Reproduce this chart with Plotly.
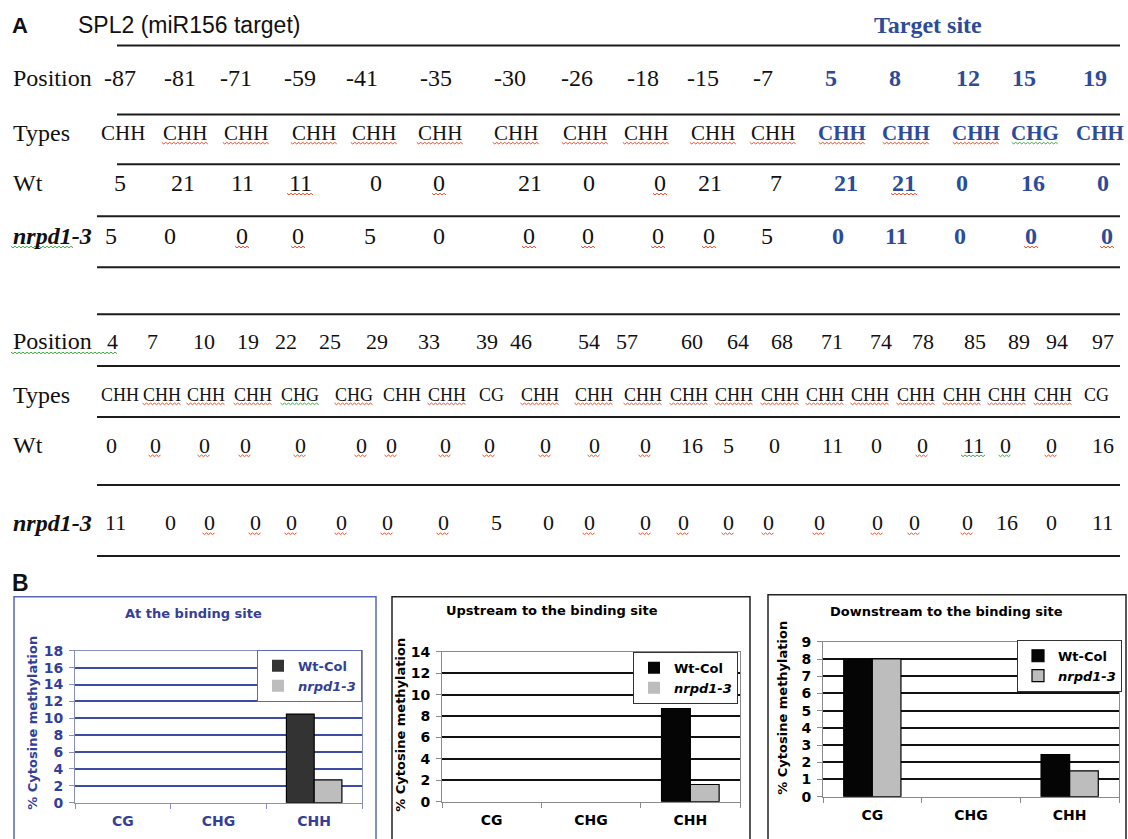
import plotly.graph_objects as go

W, H = 1128, 839

# ---------------- data: panel A tables ----------------
T1_POSITIONS = [-87, -81, -71, -59, -41, -35, -30, -26, -18, -15, -7, 5, 8, 12, 15, 19]
T1_TYPES = ["CHH"] * 14 + ["CHG", "CHH"]
T1_WT = [5, 21, 11, 11, 0, 0, 21, 0, 0, 21, 7, 21, 21, 0, 16, 0]
T1_NRPD = [5, 0, 0, 0, 5, 0, 0, 0, 0, 0, 5, 0, 11, 0, 0, 0]

T2_POSITIONS = [4, 7, 10, 19, 22, 25, 29, 33, 39, 46, 54, 57, 60, 64, 68, 71, 74, 78, 85, 89, 94, 97]
T2_TYPES = ["CHH", "CHH", "CHH", "CHH", "CHG", "CHG", "CHH", "CHH", "CG"] + ["CHH"] * 12 + ["CG"]
T2_WT = [0, 0, 0, 0, 0, 0, 0, 0, 0, 0, 0, 0, 16, 5, 0, 11, 0, 0, 11, 0, 0, 16]
T2_NRPD = [11, 0, 0, 0, 0, 0, 0, 0, 5, 0, 0, 0, 0, 0, 0, 0, 0, 0, 0, 16, 0, 11]

# ---------------- data: panel B bar charts ----------------
CATEGORIES = ["CG", "CHG", "CHH"]
SERIES_NAMES = ["Wt-Col", "nrpd1-3"]
AT_SITE_WT = [0, 0, 10.5]
AT_SITE_NRPD = [0, 0, 2.7]
UPSTREAM_WT = [0, 0, 8.7]
UPSTREAM_NRPD = [0, 0, 1.6]
DOWNSTREAM_WT = [8.0, 0, 2.45]
DOWNSTREAM_NRPD = [8.0, 0, 1.5]
CHART_TITLES = ["At the binding site", "Upstream to the binding site", "Downstream to the binding site"]
Y_TITLE = "% Cytosine methylation"

# ---------------- layout / style constants (pixels) ----------------
SERIF = "Liberation Serif, Times New Roman, serif"
SANS = "Liberation Sans, Arial, sans-serif"
VSANS = "DejaVu Sans, Verdana, sans-serif"
INK = "#111111"
BLUE_T = "#2D4B9B"
BLUE_B = "#343F98"
SQ_COLORS = {"r": "#E4502C", "g": "#48A448"}

T1_ROWS_Y = {"pos": 78, "types": 133, "wt": 183, "nr": 236}
T1_LINES = [(117, 45), (117, 114), (117, 164), (97, 216), (97, 267)]
T1_X = {
    "pos": [120, 180, 236, 300, 362, 436, 510, 577, 643, 703, 763, 831, 895, 968, 1024, 1095],
    "types": [123, 185, 246, 314, 374, 440, 516, 585, 646, 713, 773, 842, 906, 976, 1035, 1100],
    "wt": [120, 183, 242, 300, 376, 439, 530, 589, 660, 710, 776, 846, 904, 962, 1033, 1103],
    "nr": [111, 170, 242, 298, 370, 439, 529, 588, 658, 709, 767, 838, 896, 960, 1031, 1107],
}
# spell-check style wavy underlines (r = red, g = green, - = none)
T1_SQ = {"types": "-rrrrrrrrrrrrrg-", "wt": "---r-r--r---r---", "nr": "--rr--rrrr----rr"}

T2_ROWS_Y = {"pos": 341, "types": 395, "wt": 445, "nr": 523}
T2_LINES = [(97, 314), (97, 366), (97, 417), (97, 485), (97, 556)]
T2_X = {
    "pos": [112, 152, 204, 248, 286, 330, 377, 429, 487, 521, 589, 627, 692, 738, 782, 832, 881, 923, 975, 1019, 1057, 1103],
    "types": [120, 162, 206, 253, 300, 354, 402, 447, 491, 540, 594, 643, 689, 734, 780, 825, 870, 916, 962, 1007, 1053, 1096],
    "wt": [111, 155, 204, 245, 300, 361, 391, 445, 489, 545, 594, 645, 692, 728, 774, 832, 876, 922, 973, 1005, 1051, 1103],
    "nr": [115, 170, 209, 255, 291, 341, 387, 443, 496, 548, 589, 645, 683, 728, 768, 819, 877, 914, 967, 1007, 1051, 1102],
}
T2_SQ = {"types": "-rrrgr-r-r" + "r" * 11 + "-",
         "wt": "-" + "r" * 11 + "-----" + "rggr-",
         "nr": "--rrrrrr--" + "r" * 9 + "---"}
LINE_END = 1120

CHART_BOX = [(14, 597, 376), (392, 597, 750), (768, 595, 1126)]
PLOT_AREA = [(75, 362, 651, 803), (442, 740, 652, 802), (823, 1119, 642, 797)]
TITLE_POS = [(193, 614), (552, 611), (946, 612)]
YTITLE_POS = [(33, 723), (401, 725), (783, 708)]
LEGEND_POS = [(362, 650), (738, 652), (1122, 640)]

# the photographed page is slightly squeezed vertically; pre-compensate
V_OFF, V_SCALE = 7.5, 0.982


def X(p):
    return p / W


def Y(p):
    return 1 - ((p - V_OFF) / V_SCALE) / H


annotations = []
shapes = []
sq = {"r": ([], []), "g": ([], [])}


def text(x, y, s, size, color=INK, family=SERIF, weight="normal", xanchor="center", angle=0):
    annotations.append(dict(
        x=X(x), y=Y(y), xref="paper", yref="paper", text=s, showarrow=False,
        xanchor=xanchor, yanchor="middle", textangle=angle,
        font=dict(family=family, size=size, color=color, weight=weight)))


def squiggle(x0, x1, y, key):
    xs, ys = sq[key]
    k = 0
    x = x0
    while x <= x1:
        xs.append(x)
        ys.append(y + (1.6 if k % 2 else 0))
        x += 2
        k += 1
    xs.append(None)
    ys.append(None)


def cell_squiggles(xlist, codes, y, widths):
    for i, code in enumerate(codes):
        if code in sq:
            half = widths[i] / 2
            squiggle(xlist[i] - half, xlist[i] + half, y, code)


# ---------------- Panel A ----------------
text(10, 25, "A", 22, family=SANS, weight="bold", xanchor="left")
text(76, 25, "SPL2 (miR156 target)", 23, family=SANS, xanchor="left")
text(928, 25, "Target site", 24, color=BLUE_T, weight="bold")


def row_labels(rows_y):
    text(11, rows_y["pos"], "Position", 24, xanchor="left")
    text(11, rows_y["types"], "Types", 24, xanchor="left")
    text(11, rows_y["wt"], "Wt", 24, xanchor="left")
    text(11, rows_y["nr"], "<i>nrpd1-3</i>", 24, weight="bold", xanchor="left")


row_labels(T1_ROWS_Y)
for i, pos in enumerate(T1_POSITIONS):
    target = pos > 0
    col = BLUE_T if target else INK
    wgt = "bold" if target else "normal"
    text(T1_X["pos"][i], T1_ROWS_Y["pos"], str(pos), 24, color=col, weight=wgt)
    text(T1_X["types"][i], T1_ROWS_Y["types"], T1_TYPES[i], 21, color=col, weight=wgt)
    text(T1_X["wt"][i], T1_ROWS_Y["wt"], str(T1_WT[i]), 24, color=col, weight=wgt)
    text(T1_X["nr"][i], T1_ROWS_Y["nr"], str(T1_NRPD[i]), 24, color=col, weight=wgt)
cell_squiggles(T1_X["types"], T1_SQ["types"], T1_ROWS_Y["types"] + 9, [15.5 * len(t) for t in T1_TYPES])
cell_squiggles(T1_X["wt"], T1_SQ["wt"], T1_ROWS_Y["wt"] + 10, [12 * len(str(v)) + 2 for v in T1_WT])
cell_squiggles(T1_X["nr"], T1_SQ["nr"], T1_ROWS_Y["nr"] + 10, [12 * len(str(v)) + 2 for v in T1_NRPD])
squiggle(11, 73, T1_ROWS_Y["nr"] + 10, "g")

row_labels(T2_ROWS_Y)
for i, pos in enumerate(T2_POSITIONS):
    text(T2_X["pos"][i], T2_ROWS_Y["pos"], str(pos), 22)
    text(T2_X["types"][i], T2_ROWS_Y["types"], T2_TYPES[i], 18)
    text(T2_X["wt"][i], T2_ROWS_Y["wt"], str(T2_WT[i]), 22)
    text(T2_X["nr"][i], T2_ROWS_Y["nr"], str(T2_NRPD[i]), 22)
cell_squiggles(T2_X["types"], T2_SQ["types"], T2_ROWS_Y["types"] + 8, [13 * len(t) for t in T2_TYPES])
cell_squiggles(T2_X["wt"], T2_SQ["wt"], T2_ROWS_Y["wt"] + 10, [11 * len(str(v)) + 2 for v in T2_WT])
cell_squiggles(T2_X["nr"], T2_SQ["nr"], T2_ROWS_Y["nr"] + 10, [11 * len(str(v)) + 2 for v in T2_NRPD])
squiggle(11, 118, T2_ROWS_Y["pos"] + 11, "g")

fig = go.Figure()

# table rules drawn on a full-page pixel overlay axis
rule_x, rule_y = [], []
for x0, y in T1_LINES + T2_LINES:
    rule_x += [x0, LINE_END, None]
    rule_y += [y, y, None]
fig.add_trace(go.Scatter(x=rule_x, y=rule_y, mode="lines", xaxis="x4", yaxis="y4",
                         line=dict(color="#1c1c1c", width=2), hoverinfo="skip", showlegend=False))
for key, (xs, ys) in sq.items():
    fig.add_trace(go.Scatter(x=xs, y=ys, mode="lines", xaxis="x4", yaxis="y4",
                             line=dict(color=SQ_COLORS[key], width=1), hoverinfo="skip",
                             showlegend=False))

# ---------------- Panel B ----------------
text(10, 583, "B", 23, family=SANS, weight="bold", xanchor="left")

charts = [
    dict(wt=AT_SITE_WT, nr=AT_SITE_NRPD, ymax=18, dtick=2, txt=BLUE_B, grid="#3C4AA8",
         box="#5B68B8", wtcol="#333333", axis="#8A8FB8"),
    dict(wt=UPSTREAM_WT, nr=UPSTREAM_NRPD, ymax=14, dtick=2, txt="#000000", grid="#111111",
         box="#222222", wtcol="#050505", axis="#8a8a8a"),
    dict(wt=DOWNSTREAM_WT, nr=DOWNSTREAM_NRPD, ymax=9, dtick=1, txt="#000000", grid="#111111",
         box="#222222", wtcol="#050505", axis="#8a8a8a"),
]


def outline(values):
    return [1.2 if v > 0 else 0 for v in values]


layout_axes = {
    "xaxis4": dict(domain=[0, 1], range=[0, W], visible=False, fixedrange=True),
    "yaxis4": dict(domain=[0, 1], range=[V_OFF + V_SCALE * H, V_OFF], visible=False, fixedrange=True),
}
for i, c in enumerate(charts):
    n = i + 1
    xa = "x" if n == 1 else f"x{n}"
    ya = "y" if n == 1 else f"y{n}"
    lg = "legend" if n == 1 else f"legend{n}"
    fig.add_trace(go.Bar(
        x=CATEGORIES, y=c["wt"], name=SERIES_NAMES[0], xaxis=xa, yaxis=ya, legend=lg,
        marker=dict(color=c["wtcol"], line=dict(color="#000000", width=outline(c["wt"])))))
    fig.add_trace(go.Bar(
        x=CATEGORIES, y=c["nr"], name="<i>" + SERIES_NAMES[1] + "</i>", xaxis=xa, yaxis=ya, legend=lg,
        marker=dict(color="#BDBDBD", line=dict(color="#000000", width=outline(c["nr"])))))

    l, r, t, b = PLOT_AREA[i]
    tick_font = dict(family=VSANS, size=14, color=c["txt"], weight="bold")
    layout_axes["xaxis" if n == 1 else f"xaxis{n}"] = dict(
        domain=[X(l), X(r)], anchor=ya, type="category", range=[-0.5, 2.5],
        ticks="outside", tickson="boundaries", ticklen=5, tickcolor=c["axis"],
        showgrid=False, showline=True, linecolor=c["axis"], linewidth=1, mirror=True,
        tickfont=tick_font, ticklabelstandoff=6, fixedrange=True)
    layout_axes["yaxis" if n == 1 else f"yaxis{n}"] = dict(
        domain=[Y(b), Y(t)], anchor=xa, range=[0, c["ymax"]], dtick=c["dtick"],
        ticks="outside", ticklen=5, tickcolor=c["axis"],
        showgrid=True, gridcolor=c["grid"], gridwidth=2, zeroline=False,
        showline=True, linecolor=c["axis"], linewidth=1, mirror=True,
        tickfont=tick_font, ticklabelstandoff=3, fixedrange=True)

    lx, ly = LEGEND_POS[i]
    layout_axes[lg] = dict(
        x=X(lx), y=Y(ly), xanchor="right", yanchor="top", bgcolor="#FFFFFF",
        bordercolor=c["box"] if n == 1 else "#333333", borderwidth=1,
        font=dict(family=VSANS, size=13, color=c["txt"], weight="bold"),
        itemwidth=30, tracegroupgap=0, traceorder="normal")

    bx0, by0, bx1 = CHART_BOX[i]
    shapes.append(dict(type="rect", xref="paper", yref="paper", x0=X(bx0), x1=X(bx1),
                       y0=Y(by0), y1=-0.05, line=dict(color=c["box"], width=1.5),
                       fillcolor="rgba(0,0,0,0)", layer="below"))
    tx, ty = TITLE_POS[i]
    text(tx, ty, CHART_TITLES[i], 13, color=c["txt"], family=VSANS, weight="bold")
    yx, yy = YTITLE_POS[i]
    text(yx, yy, Y_TITLE, 13, color=c["txt"], family=VSANS, weight="bold", angle=-90)

fig.update_layout(
    width=W, height=H, margin=dict(l=0, r=0, t=0, b=0, pad=0),
    paper_bgcolor="#FFFFFF", plot_bgcolor="rgba(0,0,0,0)",
    barmode="group", bargap=0.42, bargroupgap=0,
    showlegend=True, annotations=annotations, shapes=shapes,
    **layout_axes)

fig.write_html(
    "out.html",
    config={"displayModeBar": False, "staticPlot": True},
    post_script=("var s=document.documentElement.style;s.margin='0';s.padding='0';s.overflow='hidden';"
                 "var b=document.body.style;b.margin='0';b.padding='0';b.overflow='hidden';"))
